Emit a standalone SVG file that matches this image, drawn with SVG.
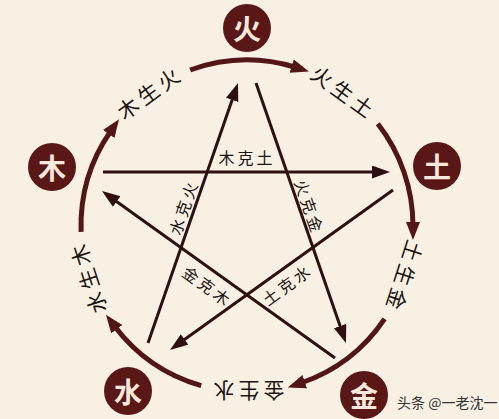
<svg xmlns="http://www.w3.org/2000/svg" width="499" height="419" viewBox="0 0 499 419">
<style>
.bg{fill:#f8f1e3}
.node circle{fill:#5a1717}
.node text{fill:#f6e8dc;font-family:"Noto Sans CJK SC",sans-serif;font-size:28px;font-weight:bold;text-anchor:middle;dominant-baseline:central}
.arc{fill:none;stroke:#521616;stroke-width:5}
.star{fill:none;stroke:#2e1010;stroke-width:3}
.lbl{fill:#1c1414;font-family:"Noto Sans CJK SC",sans-serif;font-size:21px;letter-spacing:4px;text-anchor:middle;dominant-baseline:central}
.klbl{fill:#1c1414;font-family:"Noto Sans CJK SC",sans-serif;font-size:16px;letter-spacing:3px;text-anchor:middle;dominant-baseline:central}
.wm{fill:#333;font-family:"Noto Sans CJK SC",sans-serif;font-size:14px;dominant-baseline:central}
</style>
<defs>
<marker id="ah" markerUnits="userSpaceOnUse" markerWidth="20" markerHeight="16" refX="4" refY="7" orient="auto"><path d="M0,0 L18,7 L0,14 Z" fill="#521616"/></marker>
<marker id="sh" markerUnits="userSpaceOnUse" markerWidth="20" markerHeight="14" refX="4" refY="6.5" orient="auto"><path d="M0,0 L18,6.5 L0,13 Z" fill="#2e1010"/></marker>
</defs>
<rect class="bg" x="0" y="0" width="499" height="419"/>
<g id="connectors">
<path class="arc" marker-end="url(#ah)" d="M81.1,231.8 A166,166 0 0 1 111,130.8"/>
<path class="arc" marker-end="url(#ah)" d="M190.2,70 A166,166 0 0 1 295.5,67.3"/>
<path class="arc" marker-end="url(#ah)" d="M377.8,123.8 A166,166 0 0 1 413,226"/>
<path class="arc" marker-end="url(#ah)" d="M384.6,318.8 A166,166 0 0 1 301,383"/>
<path class="arc" marker-end="url(#ah)" d="M201.2,385.6 A166,166 0 0 1 114.4,325.9"/>
<path class="star" marker-end="url(#sh)" d="M103,172 L376,172"/>
<path class="star" marker-end="url(#sh)" d="M148,343 L233.4,96.2"/>
<path class="star" marker-end="url(#sh)" d="M256,83 L341.4,329.8"/>
<path class="star" marker-end="url(#sh)" d="M335,358 L113.4,199.2"/>
<path class="star" marker-end="url(#sh)" d="M393,190 L181.4,341.8"/>
</g>
<g id="ring-labels">
<text class="lbl" transform="translate(149.4,91.7) rotate(-36)">木生火</text>
<text class="lbl" transform="translate(344.6,91.7) rotate(36)">火生土</text>
<text class="lbl" transform="translate(405,277.3) rotate(108)">土生金</text>
<text class="lbl" transform="translate(247,392) rotate(180)">金生水</text>
<text class="lbl" transform="translate(87,277.3) rotate(-108)">水生木</text>
</g>
<g id="star-labels">
<text class="klbl" x="247" y="157">木克土</text>
<text class="klbl" transform="translate(183,207) rotate(-71)">水克火</text>
<text class="klbl" transform="translate(310,207) rotate(71)">火克金</text>
<text class="klbl" transform="translate(208,286) rotate(36)">金克木</text>
<text class="klbl" transform="translate(287,284) rotate(-36)">土克水</text>
</g>
<g id="node-fire" class="node"><circle cx="247" cy="28" r="24"/><text x="247" y="28">火</text></g>
<g id="node-earth" class="node"><circle cx="437" cy="166" r="24"/><text x="437" y="166">土</text></g>
<g id="node-metal" class="node"><circle cx="364" cy="395" r="24"/><text x="364" y="395">金</text></g>
<g id="node-water" class="node"><circle cx="128" cy="391" r="24"/><text x="128" y="391">水</text></g>
<g id="node-wood" class="node"><circle cx="52" cy="167" r="24"/><text x="52" y="167">木</text></g>
<text class="wm" x="397" y="402">头条 @一老沈一</text>
</svg>
